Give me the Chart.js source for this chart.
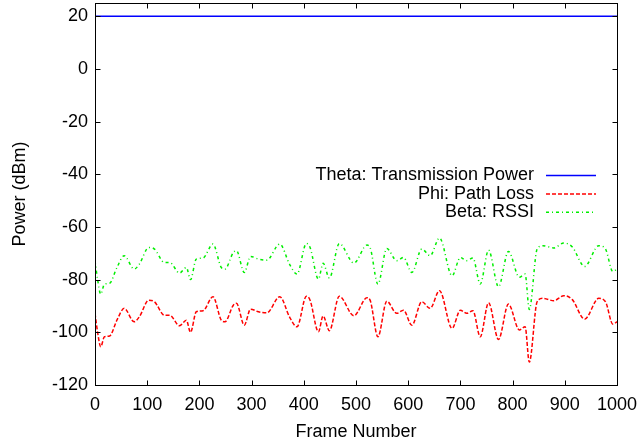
<!DOCTYPE html>
<html lang="en">

<head>
    <meta charset="UTF-8">
    <title>Power vs Frame Number</title>
    <style>
        * {
            margin: 0;
            padding: 0;
            box-sizing: border-box;
        }

        body {
            background: #fff;
        }

        .wrapper {
            width: 641px;
            height: 444px;
            position: relative;
        }
    </style>
</head>

<body>
    <div class="wrapper">
        <canvas id="chart"></canvas>
    </div>

    <script src="https://cdn.jsdelivr.net/npm/chart.js@4/dist/chart.umd.min.js"></script>
    <script>
        const frames = [0, 5, 11, 18, 28, 42, 56, 75, 85, 103, 114, 133, 143, 162, 175, 183, 194, 207, 226, 242,
            249, 265, 271, 286, 298, 313, 329, 354, 373, 387, 405, 412, 428, 437, 449, 468, 496, 521, 527, 542,
            559, 578, 591, 607, 626, 642, 660, 684, 700, 712, 724, 738, 754, 773, 792, 813, 824, 832, 847, 858,
            879, 898, 914, 938, 965, 978, 992, 1000];

        // Phi: Path Loss (dBm)
        const pathLoss = [-92.8, -100, -105.5, -101.7, -101.4, -95.4, -90.9, -96.0, -94.1, -87.8, -88.4, -93.5, -93.5, -97.5, -95.4, -100.0, -92.2, -91.8, -86.5, -95.4,
            -96.0, -89.7, -89.0, -97.3, -91.2, -92.2, -92.6, -86.5, -94.3, -97.9, -86.3, -87.8, -99.8, -93.8, -99.4, -86.3, -93.7, -86.9, -87.8, -101.7,
            -88.2, -92.8, -91.6, -97.3, -88.4, -90.9, -84.2, -98.5, -91.6, -92.8, -91.8, -101.7, -88.8, -102.7, -89.3, -99.1, -97.9, -111.3, -88.4, -87.1,
            -88.0, -86.1, -87.5, -95.0, -87.1, -88.4, -96.9, -96.0];

        // Beta: RSSI (dBm)
        const rssi = [-72.8, -80, -85.5, -81.7, -81.4, -75.4, -70.9, -76.0, -74.1, -67.8, -68.4, -73.5, -73.5, -77.5, -75.4, -80.0, -72.2, -71.8, -66.5, -75.4,
            -76.0, -69.7, -69.0, -77.3, -71.2, -72.2, -72.6, -66.5, -74.3, -77.9, -66.3, -67.8, -79.8, -73.8, -79.4, -66.3, -73.7, -66.9, -67.8, -81.7,
            -68.2, -72.8, -71.6, -77.3, -68.4, -70.9, -64.2, -78.5, -71.6, -72.8, -71.8, -81.7, -68.8, -82.7, -69.3, -79.1, -77.9, -91.3, -68.4, -67.1,
            -68.0, -66.1, -67.5, -75.0, -67.1, -68.4, -76.9, -76.0];

        // Theta: Transmission Power (constant)
        const txFrames = [0, 1000];
        const txPower = [20, 20];

        // Axis ticks
        const xTicks = [0, 100, 200, 300, 400, 500, 600, 700, 800, 900, 1000];
        const yTicks = [-120, -100, -80, -60, -40, -20, 0, 20];

        const toPoints = (xs, ys) => xs.map((v, i) => ({ x: v, y: ys[i] }));

        Chart.defaults.font.family = '"Liberation Sans", Arial, sans-serif';
        Chart.defaults.font.size = 18;
        Chart.defaults.color = "#000";

        // gnuplot style frame: border box with inward ticks on all four sides, and key on the right
        const gnuFrame = {
            id: "gnuFrame",
            afterDatasetsDraw(chart) {
                const { ctx, chartArea: a, scales: { x, y } } = chart;
                const L = Math.round(a.left) + 0.5, R = Math.round(a.right) + 0.5,
                    T = Math.round(a.top) + 0.5, B = Math.round(a.bottom) + 0.5;
                const len = 5;
                ctx.save();
                ctx.strokeStyle = "#000";
                ctx.lineWidth = 1;
                ctx.strokeRect(L, T, R - L, B - T);
                ctx.beginPath();
                xTicks.forEach(v => {
                    const px = Math.round(x.getPixelForValue(v)) + 0.5;
                    ctx.moveTo(px, B); ctx.lineTo(px, B - len);
                    ctx.moveTo(px, T); ctx.lineTo(px, T + len);
                });
                yTicks.forEach(v => {
                    const py = Math.round(y.getPixelForValue(v)) + 0.5;
                    ctx.moveTo(L, py); ctx.lineTo(L + len, py);
                    ctx.moveTo(R, py); ctx.lineTo(R - len, py);
                });
                ctx.stroke();

                // key
                ctx.font = '18px "Liberation Sans", Arial, sans-serif';
                ctx.textAlign = "right";
                ctx.textBaseline = "middle";
                chart.data.datasets.forEach((ds, i) => {
                    const ky = 175.5 + i * 18.4;
                    ctx.fillStyle = "#000";
                    ctx.fillText(ds.label, 534, ky);
                    ctx.strokeStyle = ds.borderColor;
                    ctx.lineWidth = ds.borderWidth;
                    ctx.setLineDash(ds.borderDash || []);
                    ctx.beginPath();
                    ctx.moveTo(546, ky);
                    ctx.lineTo(596, ky);
                    ctx.stroke();
                });
                ctx.restore();
            }
        };

        new Chart(document.getElementById("chart"), {
            type: "line",
            plugins: [gnuFrame],
            data: {
                datasets: [
                    {
                        label: "Theta: Transmission Power",
                        data: toPoints(txFrames, txPower),
                        borderColor: "#0000ff",
                        borderWidth: 1.5,
                        pointRadius: 0,
                    },
                    {
                        label: "Phi: Path Loss",
                        data: toPoints(frames, pathLoss),
                        borderColor: "#ff0000",
                        borderWidth: 1.5,
                        borderDash: [4, 2],
                        cubicInterpolationMode: "monotone",
                        pointRadius: 0,
                    },
                    {
                        label: "Beta: RSSI",
                        data: toPoints(frames, rssi),
                        borderColor: "#00ee00",
                        borderWidth: 1.5,
                        borderDash: [3, 3, 1, 3],
                        cubicInterpolationMode: "monotone",
                        pointRadius: 0,
                    },
                ],
            },
            options: {
                responsive: true,
                maintainAspectRatio: false,
                animation: false,
                layout: { padding: { top: 3, right: 24, left: 0, bottom: 0 } },
                plugins: {
                    legend: { display: false },
                    tooltip: { enabled: false },
                },
                scales: {
                    x: {
                        type: "linear",
                        min: 0,
                        max: 1000,
                        grid: { display: false, drawTicks: false },
                        border: { display: false },
                        ticks: { padding: 9, maxRotation: 0, autoSkip: false, callback: (v) => String(v) },
                        afterBuildTicks: (s) => { s.ticks = xTicks.map(v => ({ value: v })); },
                        afterFit: (s) => { s.height = 59; s.paddingLeft = 0; s.paddingRight = 0; },
                        title: { display: true, text: "Frame Number", padding: { top: 0, bottom: 1 } },
                    },
                    y: {
                        min: -120,
                        max: 25,
                        grid: { display: false, drawTicks: false },
                        border: { display: false },
                        ticks: { padding: 7, callback: (v) => String(v) },
                        afterBuildTicks: (s) => { s.ticks = yTicks.map(v => ({ value: v })); },
                        afterFit: (s) => { s.width = 95; s.paddingTop = 0; s.paddingBottom = 0; },
                        title: { display: true, text: "Power (dBm)", padding: { top: 9, bottom: 0 } },
                    },
                },
            },
        });
    </script>
</body>

</html>
